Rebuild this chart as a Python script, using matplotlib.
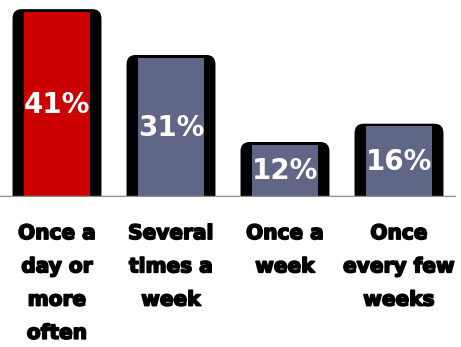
import matplotlib
matplotlib.use('Agg')
import matplotlib.pyplot as plt
import matplotlib.patheffects as pe
from matplotlib.patches import FancyBboxPatch

categories = ['Once a\nday or\nmore\noften', 'Several\ntimes a\nweek',
              'Once a\nweek', 'Once\nevery few\nweeks']
values = [41, 31, 12, 16]
labels = ['41%', '31%', '12%', '16%']
colors = ['#CC0000', '#5F6686', '#5F6686', '#5F6686']

fig = plt.figure(figsize=(4.61, 3.47), dpi=100)
ax = fig.add_axes([0, 150 / 347, 456 / 461, 197 / 347])
ax.set_xlim(-0.5, 3.5)
ax.set_ylim(0, 43)

x = range(len(values))
# px per data unit, used to keep the rounded corners circular
aspect = (456 / 4) / (197 / 43)

# Black outer "shell" bars with rounded tops
outer = ax.bar(x, values, width=0.78, color='black', zorder=2)
for b in outer:
    b.set_visible(False)
    p = FancyBboxPatch((b.get_x(), -2), b.get_width(), b.get_height() + 2,
                       boxstyle='round,pad=0,rounding_size=0.08',
                       mutation_aspect=aspect, fc='black', ec='none', zorder=2)
    ax.add_patch(p)

# Coloured inner face
inner = ax.bar(x, [v - 0.6 for v in values], width=0.58, color=colors, zorder=3)

for i, v in enumerate(values):
    ax.text(i, v / 2 - 0.4, labels[i], ha='center', va='center', color='white',
            fontsize=20, fontweight='bold', zorder=4)

ax.axhline(0, color='#8C8C8C', lw=2.5, zorder=5)

ax.set_xticks(list(x))
ax.set_xticklabels(categories, fontsize=14.5, fontweight='bold', linespacing=1.95)
for t in ax.get_xticklabels():
    # the original lettering is very heavy
    t.set_path_effects([pe.withStroke(linewidth=1.2, foreground='black')])
ax.tick_params(axis='x', length=0, pad=19.5)
ax.set_yticks([])
for s in ax.spines.values():
    s.set_visible(False)

fig.savefig('out.png', dpi=100)
